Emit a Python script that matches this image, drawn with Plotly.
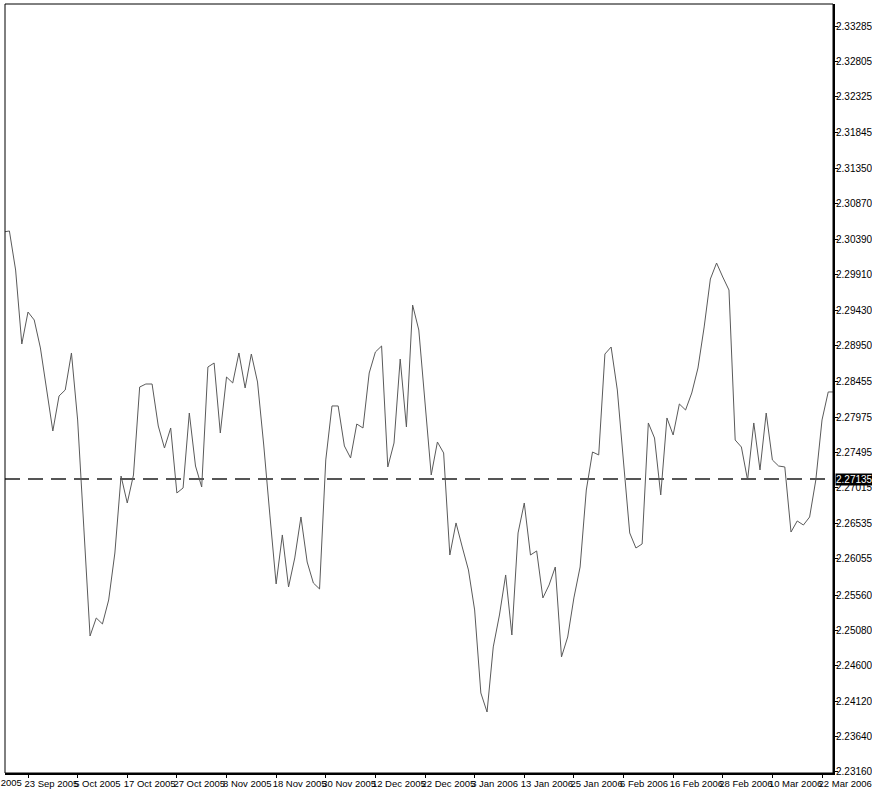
import numpy as np
import pandas as pd
import plotly.graph_objects as go

# ---- data ----
START_DATE = "2005-09-19"
END_DATE = "2006-03-24"
dates = pd.bdate_range(START_DATE, END_DATE)

close = [
    2.30489, 2.30503, 2.29973, 2.28969, 2.29403, 2.29295, 2.28915, 2.28345, 2.27788, 2.28263,
    2.28345, 2.28847, 2.27938, 2.26472, 2.25006, 2.25250, 2.25169, 2.25494, 2.26132, 2.27177,
    2.26811, 2.27191, 2.28385, 2.28426, 2.28426, 2.27856, 2.27557, 2.27829, 2.26947, 2.27015,
    2.28032, 2.27313, 2.27028, 2.28657, 2.28711, 2.27761, 2.28521, 2.28440, 2.28847, 2.28372,
    2.28833, 2.28453, 2.27598, 2.26635, 2.25712, 2.26377, 2.25671, 2.26065, 2.26621, 2.26010,
    2.25725, 2.25644, 2.27395, 2.28128, 2.28128, 2.27585, 2.27422, 2.27883, 2.27829, 2.28575,
    2.28860, 2.28942, 2.27300, 2.27625, 2.28765, 2.27843, 2.29498, 2.29159, 2.28209, 2.27191,
    2.27639, 2.27490, 2.26105, 2.26540, 2.26214, 2.25902, 2.25359, 2.24232, 2.23974, 2.24857,
    2.25291, 2.25834, 2.25019, 2.26404, 2.26811, 2.26105, 2.26160, 2.25522, 2.25698, 2.25942,
    2.24721, 2.24992, 2.25522, 2.25942, 2.26987, 2.27503, 2.27463, 2.28833, 2.28928, 2.28345,
    2.27367, 2.26404, 2.26200, 2.26255, 2.27897, 2.27693, 2.26920, 2.27965, 2.27734, 2.28155,
    2.28073, 2.28304, 2.28643, 2.29200, 2.29851, 2.30068, 2.29878, 2.29702, 2.27666, 2.27571,
    2.27123, 2.27897, 2.27259, 2.28032, 2.27395, 2.27313, 2.27300, 2.26417, 2.26567, 2.26512,
    2.26621, 2.27123, 2.27938, 2.28318, 2.28318,
]

price_ticks = ["2.33285", "2.32805", "2.32325", "2.31845", "2.31350", "2.30870", "2.30390",
               "2.29910", "2.29430", "2.28950", "2.28455", "2.27975", "2.27495", "2.27015",
               "2.26535", "2.26055", "2.25560", "2.25080", "2.24600", "2.24120", "2.23640",
               "2.23160"]
level_value = 2.27135
level_text = "2.27135"
label_every = 8
first_label_offset = 4   # 23 Sep 2005 is the 5th bar

X_RANGE = [0.29, 133.77]
Y_RANGE = [2.23146, 2.33584]

# ---- build ----
x = np.arange(len(dates))
n = min(len(x), len(close))
x = x[:n]


def bar_date(p):
    return dates[0] + pd.offsets.BDay(p) if p >= 0 else dates[0] - pd.offsets.BDay(-p)


def fmt(d):
    return f"{d.day} {d.strftime('%b %Y')}"


tick_pos = list(range(first_label_offset, n, label_every))
tick_txt = [fmt(bar_date(p)) for p in tick_pos]
prev_pos = first_label_offset - label_every      # label whose tick lies left of the view
prev_txt = fmt(bar_date(prev_pos))

FONT = "Liberation Sans, Arial, sans-serif"
XFS = 9.5

fig = go.Figure()
fig.add_trace(go.Scatter(x=x, y=close[:n], mode="lines",
                         line=dict(color="#5a5a5a", width=1),
                         hoverinfo="skip", showlegend=False))

fig.add_shape(type="line", xref="paper", x0=0, x1=1, yref="y",
              y0=level_value, y1=level_value,
              line=dict(color="#555555", width=2, dash="15px,8px"))
fig.add_shape(type="rect", xref="paper", yref="paper", x0=0, x1=1, y0=0, y1=1,
              line=dict(color="black", width=1))

fig.add_annotation(x=1, xref="paper", y=level_value, yref="y", text=level_text,
                   xanchor="left", yanchor="middle", showarrow=False, xshift=2,
                   bgcolor="black", borderpad=0,
                   font=dict(family=FONT, size=10, color="white"))

# partially visible date label at the far left
fig.add_annotation(x=(prev_pos - X_RANGE[0]) / (X_RANGE[1] - X_RANGE[0]), xref="paper",
                   y=0, yref="paper", text=prev_txt, showarrow=False,
                   xanchor="left", yanchor="top", xshift=-11, yshift=-3, borderpad=0,
                   font=dict(family=FONT, size=XFS, color="black"))

fig.update_layout(
    width=872, height=794,
    margin=dict(l=5, r=39, t=4, b=21, autoexpand=False),
    paper_bgcolor="white", plot_bgcolor="white",
    hovermode=False,
)
fig.update_xaxes(range=X_RANGE, showgrid=False, zeroline=False, automargin=False,
                 showline=True, linecolor="black", linewidth=2,
                 tickmode="array", tickvals=tick_pos, ticktext=tick_txt,
                 ticks="outside", ticklen=3, tickcolor="black", tickangle=0,
                 ticklabelposition="outside right", ticklabeloverflow="allow",
                 ticklabelshift=-5, ticklabelstandoff=1,
                 tickfont=dict(family=FONT, size=XFS, color="black"))
fig.update_yaxes(range=Y_RANGE, side="right", showgrid=False, zeroline=False, automargin=False,
                 showline=True, linecolor="black", linewidth=2,
                 tickmode="array", tickvals=[float(t) for t in price_ticks], ticktext=price_ticks,
                 ticks="outside", ticklen=3, tickcolor="black",
                 ticklabeloverflow="allow", ticklabelstandoff=-4,
                 tickfont=dict(family=FONT, size=10, color="black"))

fig.write_html("out.html", config={"displayModeBar": False},
               post_script="document.body.style.margin='0';document.body.style.overflow='hidden';")
